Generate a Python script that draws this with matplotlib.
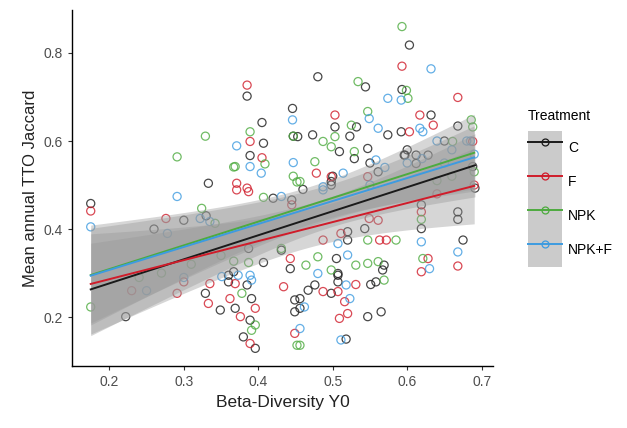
import matplotlib
matplotlib.use("Agg")
import matplotlib.pyplot as plt
import numpy as np
from matplotlib.patches import Patch
from matplotlib.lines import Line2D
from matplotlib.legend_handler import HandlerTuple

plt.rcParams['font.family'] = ['Liberation Sans', 'DejaVu Sans']

treatments = ['C', 'F', 'NPK', 'NPK+F']
colors = ['#1a1a1a', '#d01c2a', '#4dab3f', '#3d9be0']

# beta-diversity (x) and mean annual TTO Jaccard (y) per treatment
# (the last few of each list sit under the confidence bands)
c_x = [.385, .446, .447, .405, .407, .389, .333, .603, .480, .544, .593, .503, .532, .523,
       .453, .473, .574, .592, .509, .529, .547, .596, .498, .561, .668, .632, .688, .691,
       .628, .612, .597, .612, .498, .543, .520, .520, .505, .507, .569, .567, .558, .551,
       .507, .507, .476, .467, .498, .456, .456, .547, .565, .518, .668, .675, .619, .445,
       .431, .443, .407, .387, .367, .360, .360, .385, .329, .349, .369, .391, .389, .380,
       .396, .449, .449, .175, .222, .619, .668,
       .260, .300, .330, .420, .460, .500, .550, .600, .650]
c_y = [.702, .674, .611, .642, .595, .567, .504, .818, .746, .723, .717, .632, .632, .611,
       .610, .614, .614, .621, .576, .560, .583, .568, .508, .530, .634, .659, .542, .493,
       .568, .568, .568, .549, .500, .401, .394, .375, .333, .299, .318, .307, .280, .274,
       .280, .295, .273, .261, .254, .242, .220, .201, .212, .150, .422, .375, .401, .466,
       .352, .310, .324, .356, .303, .295, .280, .273, .254, .216, .220, .242, .193, .155,
       .129, .239, .212, .458, .201, .455, .439,
       .400, .420, .430, .470, .490, .520, .550, .580, .600]

f_x = [.385, .389, .405, .371, .385, .593, .503, .603, .478, .498, .547, .668, .635, .617,
       .688, .549, .561, .511, .487, .572, .531, .487, .507, .516, .520, .509, .668, .628,
       .619, .619, .387, .445, .443, .434, .369, .335, .333, .362, .396, .376, .389, .449,
       .175, .276, .291, .371, .563,
       .640, .690, .230, .300]
f_y = [.727, .599, .562, .504, .493, .770, .659, .621, .527, .519, .519, .699, .636, .659,
       .599, .424, .420, .390, .375, .375, .274, .258, .258, .235, .208, .197, .316, .333,
       .303, .439, .485, .455, .333, .269, .276, .276, .231, .242, .220, .201, .140, .163,
       .441, .424, .254, .489, .375,
       .480, .500, .260, .280]

npk_x = [.447, .389, .329, .409, .369, .367, .447, .452, .593, .534, .601, .547, .525, .503,
         .487, .498, .529, .476, .456, .599, .686, .688, .661, .547, .585, .480, .464, .498,
         .531, .547, .561, .569, .456, .619, .621, .407, .324, .342, .387, .367, .378, .396,
         .391, .452, .175, .291, .431,
         .240, .270, .310, .350, .640, .660, .690]
npk_y = [.611, .621, .611, .548, .542, .541, .520, .507, .860, .735, .697, .667, .636, .610,
         .599, .587, .576, .553, .508, .715, .648, .632, .599, .375, .375, .337, .318, .307,
         .318, .322, .326, .284, .136, .422, .333, .472, .447, .413, .324, .327, .254, .182,
         .170, .136, .223, .564, .356,
         .290, .300, .320, .340, .510, .520, .530]

npkf_x = [.446, .371, .389, .404, .447, .574, .592, .549, .561, .558, .514, .487, .632, .617,
          .621, .507, .520, .480, .518, .523, .462, .511, .456, .668, .619, .630, .431, .322,
          .335, .351, .373, .389, .391, .175, .291, .278, .487,
          .690, .680, .660, .650, .640, .620, .600, .570, .550, .250, .300, .685]
npkf_y = [.648, .589, .542, .527, .551, .697, .693, .651, .629, .557, .527, .496, .764, .629,
          .621, .367, .341, .299, .273, .242, .223, .148, .174, .348, .371, .310, .474, .424,
          .417, .292, .295, .295, .284, .405, .474, .390, .489,
          .570, .600, .580, .550, .600, .560, .550, .540, .500, .260, .290, .600]

groups = [(c_x, c_y), (f_x, f_y), (npk_x, npk_y), (npkf_x, npkf_y)]

fig = plt.figure(figsize=(6.27, 4.28), dpi=100)
ax = fig.add_axes([0.115, 0.145, 0.671, 0.832])

for (gx, gy), col in zip(groups, colors):
    ax.scatter(gx, gy, s=34, facecolors='none', edgecolors=col, linewidths=0.9, alpha=0.8, zorder=2)

# linear fits with 95% confidence bands
for (gx, gy), col in zip(groups, colors):
    x = np.array(gx)
    y = np.array(gy)
    n = len(x)
    slope, icpt = np.polyfit(x, y, 1)
    resid = y - (icpt + slope * x)
    s = np.sqrt(np.sum(resid ** 2) / (n - 2))
    xs = np.linspace(x.min(), x.max(), 80)
    fit = icpt + slope * xs
    se = s * np.sqrt(1.0 / n + (xs - x.mean()) ** 2 / np.sum((x - x.mean()) ** 2))
    ax.fill_between(xs, fit - 2.0 * se, fit + 2.0 * se, color='#999999', alpha=0.4, lw=0, zorder=3)
    ax.plot(xs, fit, color=col, lw=1.4, zorder=4)

ax.set_xlim(0.150, 0.715)
ax.set_ylim(0.089, 0.898)
ax.set_xticks([0.2, 0.3, 0.4, 0.5, 0.6, 0.7])
ax.set_yticks([0.2, 0.4, 0.6, 0.8])
ax.set_xticklabels(['0.2', '0.3', '0.4', '0.5', '0.6', '0.7'])
ax.set_yticklabels(['0.2', '0.4', '0.6', '0.8'])
for side in ['top', 'right']:
    ax.spines[side].set_visible(False)
for side in ['left', 'bottom']:
    ax.spines[side].set_linewidth(1.0)
ax.tick_params(labelsize=10, labelcolor='#4d4d4d', length=3, width=0.8, color='#333333')
ax.set_xlabel('Beta-Diversity Y0', fontsize=12.5, color='#222222')
ax.set_ylabel('Mean annual TTO Jaccard', fontsize=12, color='#222222')

handles = []
for col in colors:
    bg = Patch(facecolor='#b0b0b0', edgecolor='none', alpha=0.65)
    ln = Line2D([], [], color=col, lw=1.4, marker='o', markersize=5,
                markerfacecolor='none', markeredgecolor=col, markeredgewidth=0.9)
    handles.append((bg, ln))
leg = fig.legend(handles, treatments, handler_map={tuple: HandlerTuple(ndivide=1, pad=0)},
                 loc='upper left', bbox_to_anchor=(0.831, 0.762), frameon=False,
                 title='Treatment', fontsize=10, title_fontsize=10,
                 handlelength=2.45, handleheight=3.39, labelspacing=0.0,
                 handletextpad=0.45, borderpad=0)
leg._legend_box.align = 'left'
leg._legend_box.sep = 6

fig.savefig('out.png', dpi=100)
